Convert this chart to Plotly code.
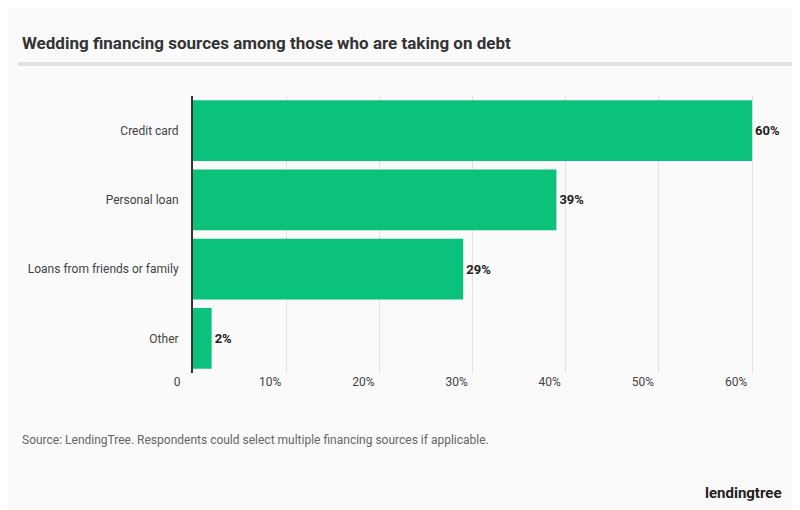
import plotly.graph_objects as go

categories = ["Credit card", "Personal loan", "Loans from friends or family", "Other"]
values = [60, 39, 29, 2]
tick_vals = [0, 10, 20, 30, 40, 50, 60]
tick_text = ["0", "10%", "20%", "30%", "40%", "50%", "60%"]

W, H = 800, 510
fig = go.Figure(go.Bar(
    y=categories, x=values, orientation="h",
    marker=dict(color="#0bc27a", line_width=0),
    text=[f"<b>{v}%</b>" for v in values], textposition="outside",
    textfont=dict(family="Roboto", size=13, color="#222"),
    cliponaxis=False,
))
fig.update_layout(
    width=W, height=H, margin=dict(l=0, r=0, t=0, b=0, autoexpand=False),
    paper_bgcolor="#fafafa", plot_bgcolor="#fafafa",
    bargap=0.12, showlegend=False,
    font=dict(family="Roboto", color="#444"),
    xaxis=dict(domain=[185/W, 1], range=[0, 66], tickvals=tick_vals, ticktext=tick_text,
               showgrid=True, gridcolor="#e2e2e2", zeroline=False, ticklabelshift=-16,
               tickfont=dict(size=12, color="#444"), showline=False, automargin=False),
    yaxis=dict(domain=[1-365/H, 1-88/H], autorange="reversed", showline=True, linecolor="#333",
               linewidth=2, tickfont=dict(size=12, color="#444"), ticks="", ticklabelstandoff=10,
               automargin=False),
    shapes=[dict(type="line", xref="paper", yref="paper", x0=10/W, x1=790/W, y0=1-56/H, y1=1-56/H,
                 line=dict(color="#e0e0e0", width=4))],
    annotations=[
        dict(text="<b>Wedding financing sources among those who are taking on debt</b>", xref="paper", yref="paper",
             x=12/W, y=1-35/H, xanchor="left", yanchor="middle", showarrow=False,
             font=dict(size=17, color="#333")),
        dict(text="Source: LendingTree. Respondents could select multiple financing sources if applicable.",
             xref="paper", yref="paper", x=12/W, y=1-432/H, xanchor="left", yanchor="middle",
             showarrow=False, font=dict(size=12, color="#666")),
        dict(text="<b>lendingtree</b>", xref="paper", yref="paper", x=735/W, y=1-485/H,
             xanchor="center", yanchor="middle", showarrow=False, font=dict(size=15, color="#222")),
    ],
)
fig.write_html("out.html")
